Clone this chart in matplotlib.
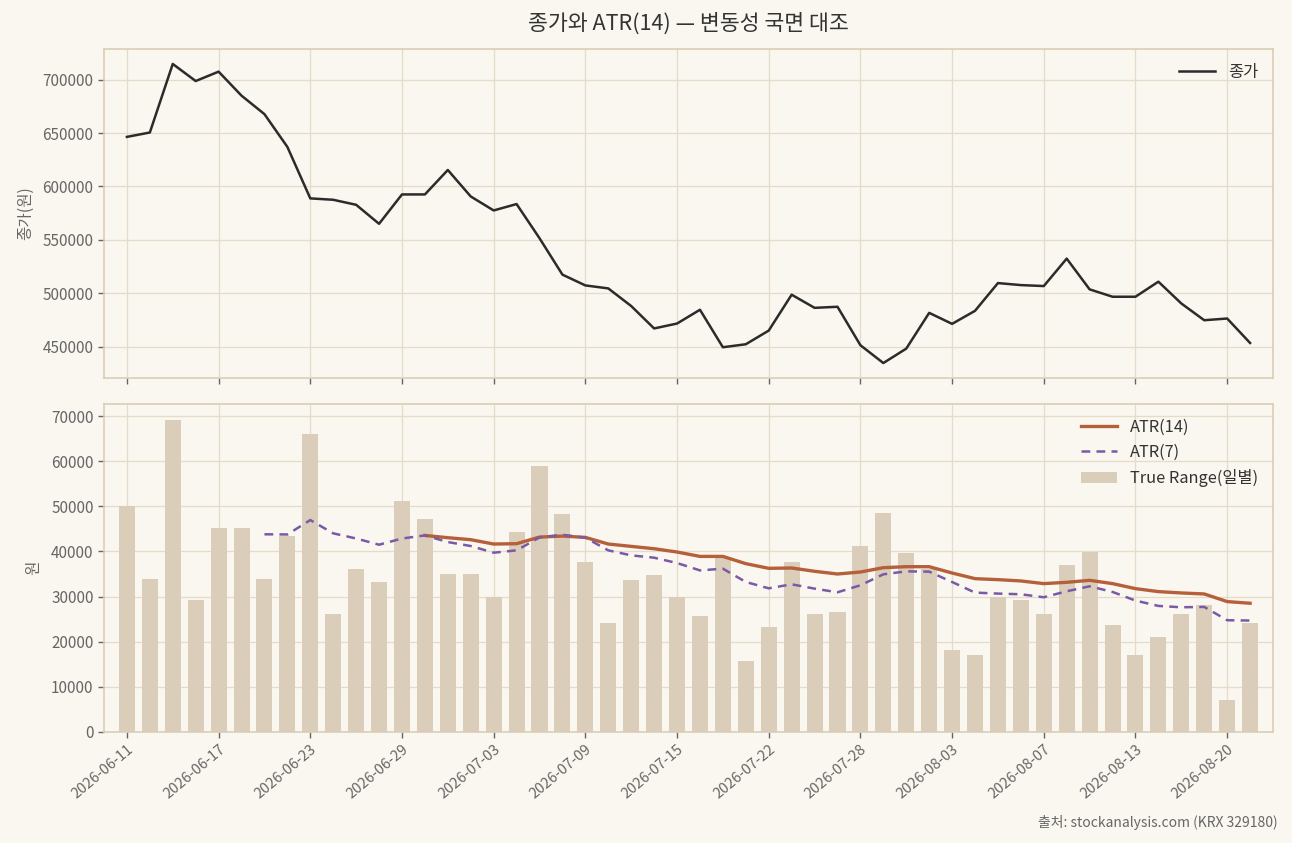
import matplotlib
matplotlib.use("Agg")
import matplotlib.pyplot as plt
import numpy as np

plt.rcParams['font.family'] = ['Noto Sans CJK KR', 'DejaVu Sans']

dates = [
    "2026-06-11", "2026-06-12", "2026-06-15", "2026-06-16", "2026-06-17",
    "2026-06-18", "2026-06-19", "2026-06-22", "2026-06-23", "2026-06-24",
    "2026-06-25", "2026-06-26", "2026-06-29", "2026-06-30", "2026-07-01",
    "2026-07-02", "2026-07-03", "2026-07-06", "2026-07-07", "2026-07-08",
    "2026-07-09", "2026-07-10", "2026-07-13", "2026-07-14", "2026-07-15",
    "2026-07-16", "2026-07-20", "2026-07-21", "2026-07-22", "2026-07-23",
    "2026-07-24", "2026-07-27", "2026-07-28", "2026-07-29", "2026-07-30",
    "2026-07-31", "2026-08-03", "2026-08-04", "2026-08-05", "2026-08-06",
    "2026-08-07", "2026-08-10", "2026-08-11", "2026-08-12", "2026-08-13",
    "2026-08-14", "2026-08-18", "2026-08-19", "2026-08-20", "2026-08-21",
]

close = [
    646400, 650500, 714700, 698700, 707500, 685000, 667700, 637000, 588800, 587500,
    582800, 565000, 592500, 592500, 615400, 590600, 577500, 583500, 551500, 517400,
    507300, 504500, 488000, 467000, 471600, 484500, 449400, 452200, 465000, 498600,
    486300, 487300, 451300, 434600, 448100, 481600, 471300, 483500, 509500, 507600,
    506700, 532400, 503600, 496700, 496700, 510800, 490400, 474700, 476300, 453400,
]

true_range = [
    50000, 34000, 69200, 29200, 45100, 45100, 34000, 43500, 66100, 26100,
    36000, 33200, 51100, 47100, 35100, 35100, 30000, 44200, 59000, 48200,
    37600, 24100, 33600, 34700, 30000, 25600, 38800, 15700, 23200, 37600,
    26100, 26500, 41100, 48600, 39600, 36000, 18100, 17000, 30000, 29200,
    26100, 37100, 39900, 23700, 17000, 21000, 26100, 28100, 7100, 24100,
]

nan = np.nan
atr14 = [
    nan, nan, nan, nan, nan, nan, nan, nan, nan, nan,
    nan, nan, nan, 43550, 43040, 42600, 41640, 41710, 43180, 43400,
    43110, 41640, 41120, 40600, 39870, 38900, 38900, 37290, 36260, 36330,
    35600, 35000, 35440, 36400, 36620, 36620, 35220, 33970, 33750, 33460,
    32870, 33160, 33600, 32870, 31760, 31100, 30800, 30580, 28890, 28520,
]

atr7 = [
    nan, nan, nan, nan, nan, nan, 43800, 43760, 46950, 44010,
    42870, 41490, 42860, 43550, 42080, 41200, 39720, 40240, 43100, 43700,
    43040, 40240, 39130, 38610, 37430, 35800, 36180, 33230, 31830, 32720,
    31760, 30950, 32500, 34930, 35590, 35520, 33230, 30880, 30660, 30510,
    29850, 31170, 32280, 31030, 29110, 27930, 27630, 27710, 24760, 24690,
]

BG = "#FAF7F0"
GRID = "#E4DBC8"
SPINE = "#DACDB3"
TXT = "#333333"
TICK = "#666666"

x = np.arange(len(dates))

fig = plt.figure(figsize=(12.92, 8.43), dpi=100, facecolor=BG)
ax1 = fig.add_axes([104/1292, 1-378/843, (1273-104)/1292, (378-49)/843])
ax2 = fig.add_axes([104/1292, 1-732/843, (1273-104)/1292, (732-404)/843], sharex=ax1)

for ax in (ax1, ax2):
    ax.set_facecolor(BG)
    ax.grid(True, color=GRID, linewidth=0.9)
    ax.set_axisbelow(True)
    for s in ax.spines.values():
        s.set_color(SPINE)
        s.set_linewidth(1.2)
    ax.tick_params(colors=TICK, labelcolor=TICK, labelsize=11, length=4, width=1)

ax1.plot(x, close, color="#2B2B2B", linewidth=1.8, label="종가")
ax1.set_ylabel("종가(원)", color=TICK, fontsize=11.3, labelpad=6)
ax1.legend(loc="upper right", frameon=False, fontsize=11.8, labelcolor=TXT,
           handlelength=2.2)
ax1.tick_params(labelbottom=False)

ax2.bar(x, true_range, width=0.7, color="#DACEBA", label="True Range(일별)", zorder=2)
ax2.plot(x, atr14, color="#B5603A", linewidth=2.4, label="ATR(14)", zorder=3)
ax2.plot(x, atr7, color="#7A5AA6", linewidth=1.8, linestyle=(0, (3.5, 2.5)), label="ATR(7)", zorder=3)
ax2.set_ylabel("원", color=TICK, fontsize=11.3, labelpad=6)
handles, labels = ax2.get_legend_handles_labels()
order = [labels.index("ATR(14)"), labels.index("ATR(7)"), labels.index("True Range(일별)")]
ax2.legend([handles[i] for i in order], [labels[i] for i in order],
           loc="upper right", frameon=False, fontsize=11.8, labelcolor=TXT,
           handlelength=2.2)

ax2.set_xlim(-1, 50)
ticks = x[::4]
ax2.set_xticks(ticks)
ax2.set_xticklabels([dates[i] for i in ticks], rotation=40, ha="right", rotation_mode="anchor")
ax2.tick_params(axis="x", labelsize=10.5)

fig.text((104 + 1273) / 2 / 1292, 1 - 24/843, "종가와 ATR(14) — 변동성 국면 대조",
         ha="center", va="center", fontsize=15.6, color=TXT)
fig.text(1278/1292, 1 - 822/843, "출처: stockanalysis.com (KRX 329180)",
         ha="right", va="center", fontsize=10, color=TICK)

fig.savefig("out.png", dpi=100, facecolor=BG)
